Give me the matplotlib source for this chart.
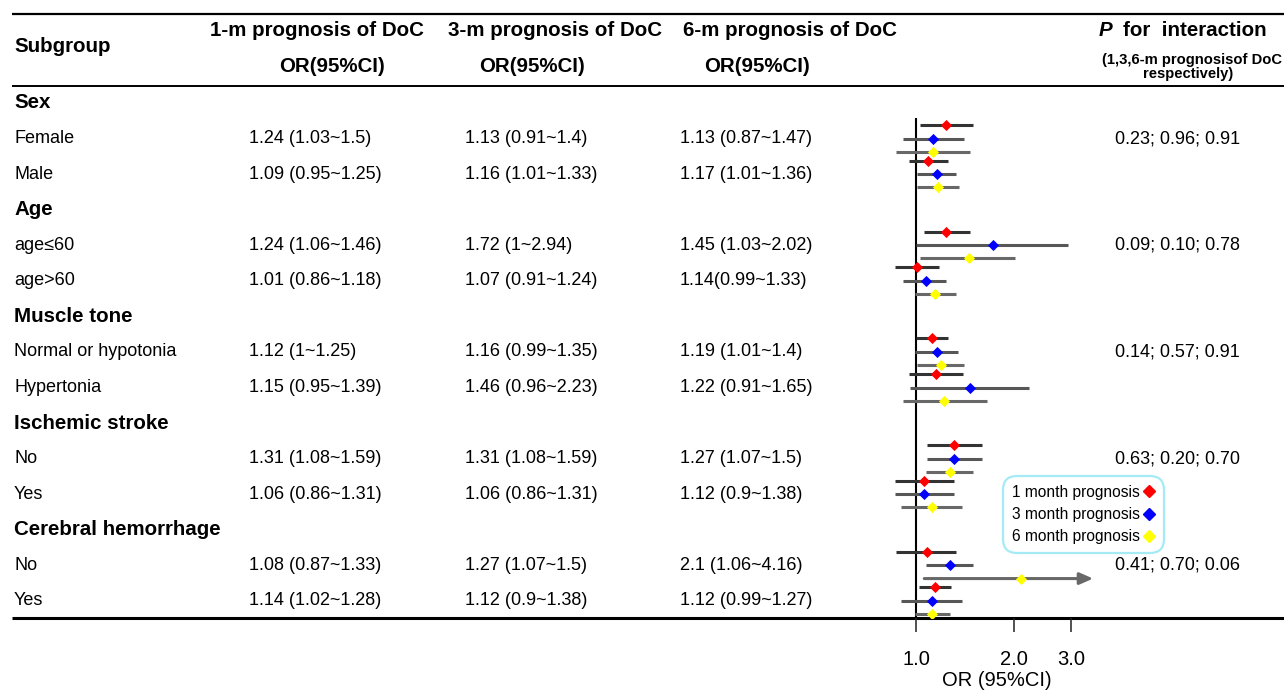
import numpy as np
import matplotlib
matplotlib.use("Agg")
import matplotlib.pyplot as plt
from matplotlib.lines import Line2D

plt.rcParams['font.family'] = ['Liberation Sans', 'DejaVu Sans']

# ---------------- data ----------------
groups = ['Sex', 'Age', 'Muscle tone', 'Ischemic stroke', 'Cerebral hemorrhage']
subgroups = ['Female', 'Male', 'age\u226460', 'age>60', 'Normal or hypotonia',
             'Hypertonia', 'No', 'Yes', 'No', 'Yes']

or_1m = [1.24, 1.09, 1.24, 1.01, 1.12, 1.15, 1.31, 1.06, 1.08, 1.14]
lo_1m = [1.03, 0.95, 1.06, 0.86, 1.00, 0.95, 1.08, 0.86, 0.87, 1.02]
hi_1m = [1.50, 1.25, 1.46, 1.18, 1.25, 1.39, 1.59, 1.31, 1.33, 1.28]

or_3m = [1.13, 1.16, 1.72, 1.07, 1.16, 1.46, 1.31, 1.06, 1.27, 1.12]
lo_3m = [0.91, 1.01, 1.00, 0.91, 0.99, 0.96, 1.08, 0.86, 1.07, 0.90]
hi_3m = [1.40, 1.33, 2.94, 1.24, 1.35, 2.23, 1.59, 1.31, 1.50, 1.38]

or_6m = [1.13, 1.17, 1.45, 1.14, 1.19, 1.22, 1.27, 1.12, 2.10, 1.12]
lo_6m = [0.87, 1.01, 1.03, 0.99, 1.01, 0.91, 1.07, 0.90, 1.06, 0.99]
hi_6m = [1.47, 1.36, 2.02, 1.33, 1.40, 1.65, 1.50, 1.38, 4.16, 1.27]

txt_1m = ['1.24 (1.03~1.5)', '1.09 (0.95~1.25)', '1.24 (1.06~1.46)', '1.01 (0.86~1.18)',
          '1.12 (1~1.25)', '1.15 (0.95~1.39)', '1.31 (1.08~1.59)', '1.06 (0.86~1.31)',
          '1.08 (0.87~1.33)', '1.14 (1.02~1.28)']
txt_3m = ['1.13 (0.91~1.4)', '1.16 (1.01~1.33)', '1.72 (1~2.94)', '1.07 (0.91~1.24)',
          '1.16 (0.99~1.35)', '1.46 (0.96~2.23)', '1.31 (1.08~1.59)', '1.06 (0.86~1.31)',
          '1.27 (1.07~1.5)', '1.12 (0.9~1.38)']
txt_6m = ['1.13 (0.87~1.47)', '1.17 (1.01~1.36)', '1.45 (1.03~2.02)', '1.14(0.99~1.33)',
          '1.19 (1.01~1.4)', '1.22 (0.91~1.65)', '1.27 (1.07~1.5)', '1.12 (0.9~1.38)',
          '2.1 (1.06~4.16)', '1.12 (0.99~1.27)']
p_inter = ['0.23; 0.96; 0.91', '0.09; 0.10; 0.78', '0.14; 0.57; 0.91',
           '0.63; 0.20; 0.70', '0.41; 0.70; 0.06']

series_labels = ['1 month prognosis', '3 month prognosis', '6 month prognosis']
xticks = [1.0, 2.0, 3.0]
xtick_labels = ['1.0', '2.0', '3.0']

# ---------------- layout ----------------
W, H = 1284, 690
fig = plt.figure(figsize=(W / 100, H / 100), dpi=100)

ax_t = fig.add_axes([0, 0, 1, 1])
ax_t.set_xlim(0, W)
ax_t.set_ylim(H, 0)
ax_t.axis('off')

ROW0, ROWH = 103.0, 35.57


def row_y(k):
    return ROW0 + ROWH * k


# rules
ax_t.plot([12, W], [14, 14], color='black', lw=1.6, solid_capstyle='butt')
ax_t.plot([12, W], [86, 86], color='black', lw=1.4, solid_capstyle='butt')
ax_t.plot([12, W], [618, 618], color='black', lw=2.2, solid_capstyle='butt')

HFS = 14.8
BFS = 13
ax_t.text(14, 46, 'Subgroup', fontsize=HFS, fontweight='bold', va='center', ha='left')
for hx, ox, lab in [(210, 279, '1-m prognosis of DoC'),
                    (448, 479, '3-m prognosis of DoC'),
                    (683, 704, '6-m prognosis of DoC')]:
    ax_t.text(hx, 31, lab, fontsize=HFS, fontweight='bold', va='center', ha='left')
    ax_t.text(ox, 66, 'OR(95%CI)', fontsize=HFS, fontweight='bold', va='center', ha='left')

ax_t.text(1099, 31, 'P', fontsize=HFS, fontweight='bold', fontstyle='italic', va='center', ha='left')
ax_t.text(1123, 31, 'for  interaction', fontsize=HFS, fontweight='bold', va='center', ha='left')
ax_t.text(1102, 60, '(1,3,6-m prognosisof DoC', fontsize=10.6, fontweight='bold', va='center', ha='left')
ax_t.text(1188, 74, 'respectively)', fontsize=10.6, fontweight='bold', va='center', ha='center')

sub_rows = []
for g, name in enumerate(groups):
    ax_t.text(14, row_y(3 * g), name, fontsize=HFS, fontweight='bold', va='center', ha='left')
    for j in range(2):
        i = 2 * g + j
        k = 3 * g + 1 + j
        sub_rows.append(k)
        y = row_y(k)
        ax_t.text(14, y, subgroups[i], fontsize=BFS, va='center', ha='left')
        ax_t.text(249, y, txt_1m[i], fontsize=BFS, va='center', ha='left')
        ax_t.text(465, y, txt_3m[i], fontsize=BFS, va='center', ha='left')
        ax_t.text(680, y, txt_6m[i], fontsize=BFS, va='center', ha='left')
    ax_t.text(1115, row_y(3 * g + 1), p_inter[g], fontsize=BFS, va='center', ha='left')

# ---------------- forest axes ----------------
X1PX, PXLN = 916.0, 141.4
XMIN, XMAX, XCAP = 0.75, 4.0, 3.5
left_px = X1PX + PXLN * np.log(XMIN)
right_px = X1PX + PXLN * np.log(XMAX)
top_px, bot_px = 118.0, 618.0
ax = fig.add_axes([left_px / W, 1 - bot_px / H, (right_px - left_px) / W, (bot_px - top_px) / H])
ax.patch.set_alpha(0)
ax.set_xscale('log')
ax.set_xlim(XMIN, XMAX)
ax.set_ylim((bot_px - ROW0) / ROWH, (top_px - ROW0) / ROWH)
for s in ax.spines.values():
    s.set_visible(False)
ax.set_yticks([])
ax.set_xticks(xticks)
ax.set_xticklabels(xtick_labels)
ax.minorticks_off()
ax.tick_params(axis='x', direction='out', length=10, width=1.1, pad=13, labelsize=14.5, color='#222222')
ax.axvline(1.0, color='black', lw=1.5, zorder=1)

series = [(or_1m, lo_1m, hi_1m, '#ff0000', '#333333', -0.38),
          (or_3m, lo_3m, hi_3m, '#0000ff', '#575757', 0.0),
          (or_6m, lo_6m, hi_6m, '#ffff00', '#686868', 0.37)]
for est, lo, hi, mc, lc, off in series:
    for i, k in enumerate(sub_rows):
        y = k + off
        if hi[i] > XCAP:
            ax.annotate('', xy=(XCAP, y), xytext=(lo[i], y),
                        arrowprops=dict(arrowstyle='-|>,head_length=0.8,head_width=0.35',
                                        color=lc, lw=2.2, shrinkA=0, shrinkB=0), zorder=2)
        else:
            ax.plot([lo[i], hi[i]], [y, y], color=lc, lw=2.2, solid_capstyle='butt', zorder=2)
        ax.plot(est[i], y, marker='D', ms=4.8, color=mc, mec=mc, mew=0.6, zorder=3, ls='none')

ax.set_xlabel('OR (95%CI)', fontsize=14.5)
ax.xaxis.set_label_coords((997 - left_px) / (right_px - left_px), -(681 - bot_px) / (bot_px - top_px))
ax.xaxis.label.set_va('center')

# legend
handles = [Line2D([], [], marker='D', ms=6, color=c, ls='none') for c in ['#ff0000', '#0000ff', '#ffff00']]
leg = fig.legend(handles, series_labels, loc='upper left',
                 bbox_to_anchor=(1003 / W, 1 - 476 / H), fontsize=11.2,
                 markerfirst=False, handlelength=0.8, handletextpad=0.2,
                 labelspacing=0.48, borderpad=0.55, borderaxespad=0, frameon=True)
fr = leg.get_frame()
fr.set_edgecolor('#8ee6f4')
fr.set_linewidth(1.6)
fr.set_boxstyle('round,pad=0,rounding_size=0.9')

fig.savefig('out.png', dpi=100)
